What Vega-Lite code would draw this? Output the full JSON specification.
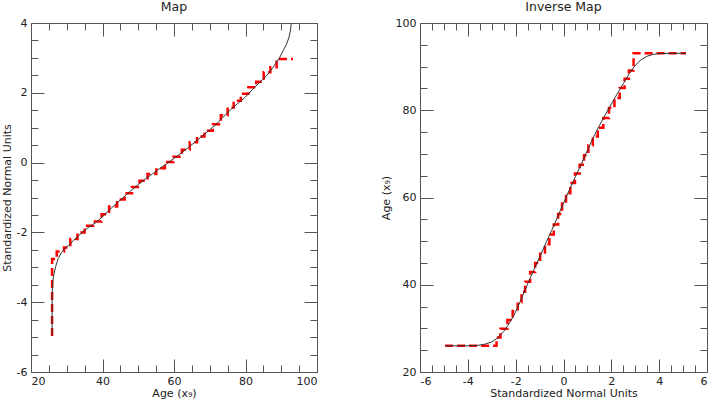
{
  "$schema": "https://vega.github.io/schema/vega-lite/v6.json",
  "padding": {"left": 0, "top": 0, "right": 2, "bottom": 0},
  "spacing": 61,
  "config": {
    "font": "DejaVu Sans",
    "view": {"stroke": "#555", "strokeWidth": 1},
    "axis": {"grid": false, "domain": false, "labelFont": "DejaVu Sans", "labelFontSize": 11, "labelColor": "#222", "titleFont": "DejaVu Sans", "titleFontSize": 11, "titleFontWeight": "normal", "titleColor": "#222", "tickColor": "#555", "tickWidth": 1},
    "title": {"font": "DejaVu Sans", "fontSize": 12.5, "fontWeight": "normal", "color": "#222", "anchor": "middle", "offset": 4}
  },
  "datasets": {
    "leftCurve": [
      {"a": 25.9, "z": -4.95}, {"a": 25.9, "z": -4.2}, {"a": 25.95, "z": -3.7}, {"a": 26.1, "z": -3.4}, {"a": 26.4, "z": -3.2}, {"a": 26.9, "z": -2.98}, {"a": 27.6, "z": -2.75}, {"a": 28.5, "z": -2.58}, {"a": 29.5, "z": -2.46}, {"a": 30.5, "z": -2.37}, {"a": 32, "z": -2.22}, {"a": 34, "z": -2.03}, {"a": 36, "z": -1.86}, {"a": 38, "z": -1.73}, {"a": 40, "z": -1.55}, {"a": 42, "z": -1.35}, {"a": 44, "z": -1.16}, {"a": 46, "z": -0.98}, {"a": 48, "z": -0.8}, {"a": 50, "z": -0.63}, {"a": 52, "z": -0.47}, {"a": 54, "z": -0.32}, {"a": 56, "z": -0.17}, {"a": 58, "z": -0.03}, {"a": 60, "z": 0.12}, {"a": 62, "z": 0.27}, {"a": 64, "z": 0.43}, {"a": 66, "z": 0.6}, {"a": 68, "z": 0.77}, {"a": 70, "z": 0.94}, {"a": 72, "z": 1.12}, {"a": 74, "z": 1.33}, {"a": 76, "z": 1.53}, {"a": 78, "z": 1.71}, {"a": 80, "z": 1.88}, {"a": 82, "z": 2.1}, {"a": 84, "z": 2.3}, {"a": 86, "z": 2.5}, {"a": 88, "z": 2.77}, {"a": 89.5, "z": 3.0}, {"a": 90.5, "z": 3.2}, {"a": 91.5, "z": 3.4}, {"a": 92.2, "z": 3.6}, {"a": 92.6, "z": 3.8}, {"a": 92.8, "z": 4.0}
    ],
    "leftStep": [
      {"a": 25.9, "z": -4.97}, {"a": 25.9, "z": -2.76}, {"a": 28.5, "z": -2.55}, {"a": 30.0, "z": -2.43}, {"a": 32, "z": -2.19}, {"a": 34, "z": -2.0}, {"a": 36, "z": -1.81}, {"a": 38.8, "z": -1.69}, {"a": 40.7, "z": -1.48}, {"a": 43, "z": -1.26}, {"a": 45.2, "z": -1.06}, {"a": 47.2, "z": -0.88}, {"a": 49.3, "z": -0.7}, {"a": 51.4, "z": -0.52}, {"a": 53.8, "z": -0.33}, {"a": 56.3, "z": -0.16}, {"a": 58.6, "z": 0.02}, {"a": 61.1, "z": 0.17}, {"a": 63.3, "z": 0.37}, {"a": 65.5, "z": 0.58}, {"a": 67.4, "z": 0.75}, {"a": 69.7, "z": 0.91}, {"a": 72, "z": 1.1}, {"a": 74.2, "z": 1.36}, {"a": 75.8, "z": 1.58}, {"a": 77.6, "z": 1.77}, {"a": 79.8, "z": 1.97}, {"a": 81.8, "z": 2.16}, {"a": 84.2, "z": 2.32}, {"a": 86, "z": 2.59}, {"a": 87.9, "z": 2.73}, {"a": 89.5, "z": 2.97}, {"a": 93.3, "z": 2.97}
    ],
    "rightCurve": [
      {"z": -4.95, "a": 26.0}, {"z": -4.0, "a": 26.0}, {"z": -3.6, "a": 26.1}, {"z": -3.3, "a": 26.35}, {"z": -3.0, "a": 26.9}, {"z": -2.75, "a": 27.8}, {"z": -2.5, "a": 29.3}, {"z": -2.33, "a": 30.6}, {"z": -2.1, "a": 32.7}, {"z": -1.9, "a": 35.0}, {"z": -1.7, "a": 37.6}, {"z": -1.5, "a": 40.2}, {"z": -1.25, "a": 43.3}, {"z": -1.0, "a": 46.3}, {"z": -0.75, "a": 49.4}, {"z": -0.5, "a": 52.4}, {"z": -0.25, "a": 55.5}, {"z": 0, "a": 58.7}, {"z": 0.25, "a": 61.8}, {"z": 0.5, "a": 64.8}, {"z": 0.75, "a": 67.7}, {"z": 1.0, "a": 70.8}, {"z": 1.25, "a": 73.8}, {"z": 1.5, "a": 76.5}, {"z": 1.75, "a": 79.0}, {"z": 2.0, "a": 81.4}, {"z": 2.25, "a": 83.8}, {"z": 2.5, "a": 86.1}, {"z": 2.75, "a": 88.4}, {"z": 3.0, "a": 90.3}, {"z": 3.25, "a": 91.6}, {"z": 3.5, "a": 92.4}, {"z": 3.75, "a": 92.8}, {"z": 4.0, "a": 93.0}, {"z": 4.5, "a": 93.05}, {"z": 5.12, "a": 93.05}
    ],
    "rightStep": [
      {"z": -4.95, "a": 26.0}, {"z": -2.8, "a": 26.0}, {"z": -2.8, "a": 27.9}, {"z": -2.47, "a": 29.9}, {"z": -2.22, "a": 31.9}, {"z": -2.03, "a": 34.0}, {"z": -1.8, "a": 36.0}, {"z": -1.71, "a": 38.4}, {"z": -1.5, "a": 40.7}, {"z": -1.29, "a": 42.9}, {"z": -1.08, "a": 45.0}, {"z": -0.87, "a": 47.1}, {"z": -0.68, "a": 49.3}, {"z": -0.5, "a": 51.5}, {"z": -0.31, "a": 53.8}, {"z": -0.14, "a": 56.2}, {"z": 0.02, "a": 58.6}, {"z": 0.19, "a": 61.0}, {"z": 0.38, "a": 63.3}, {"z": 0.58, "a": 65.5}, {"z": 0.77, "a": 67.5}, {"z": 0.95, "a": 69.7}, {"z": 1.13, "a": 72.0}, {"z": 1.32, "a": 74.0}, {"z": 1.55, "a": 76.0}, {"z": 1.78, "a": 78.2}, {"z": 2.02, "a": 80.5}, {"z": 2.24, "a": 82.8}, {"z": 2.46, "a": 85.1}, {"z": 2.65, "a": 87.2}, {"z": 2.82, "a": 89.1}, {"z": 2.93, "a": 89.1}, {"z": 2.93, "a": 93.05}, {"z": 5.12, "a": 93.05}
    ]
  },
  "hconcat": [
    {
      "title": "Map",
      "width": 286,
      "height": 349,
      "resolve": {"axis": {"x": "independent", "y": "independent"}},
      "layer": [
        {
          "data": {"name": "leftStep"},
          "mark": {"type": "line", "color": "#ff0000", "strokeWidth": 2.5, "strokeDash": [8, 4], "interpolate": "step", "clip": true},
          "encoding": {
            "x": {"field": "a", "type": "quantitative", "scale": {"domain": [20, 100], "nice": false, "zero": false},
              "axis": {"orient": "bottom", "title": "Age (x₉)", "values": [20, 40, 60, 80, 100], "ticks": false, "labelPadding": 3, "titlePadding": 1, "labelExpr": "datum.value + ''"}},
            "y": {"field": "z", "type": "quantitative", "scale": {"domain": [-6, 4], "nice": false, "zero": false},
              "axis": {"orient": "left", "title": "Standardized Normal Units", "values": [-6, -4, -2, 0, 2, 4], "ticks": false, "labelPadding": 4, "titlePadding": 4, "labelExpr": "datum.value + ''"}}
          }
        },
        {
          "data": {"name": "leftCurve"},
          "mark": {"type": "line", "color": "#333", "strokeWidth": 1, "clip": true},
          "encoding": {
            "x": {"field": "a", "type": "quantitative", "scale": {"domain": [20, 100], "nice": false, "zero": false},
              "axis": {"orient": "bottom", "title": null, "labels": false, "values": [20, 40, 60, 80, 100], "tickSize": 13, "offset": -13}},
            "y": {"field": "z", "type": "quantitative", "scale": {"domain": [-6, 4], "nice": false, "zero": false},
              "axis": {"orient": "left", "title": null, "labels": false, "values": [-6, -4, -2, 0, 2, 4], "tickSize": 13, "offset": -13}}
          }
        },
        {
          "data": {"name": "leftCurve"},
          "mark": {"type": "line", "opacity": 0},
          "encoding": {
            "x": {"field": "a", "type": "quantitative", "scale": {"domain": [20, 100], "nice": false, "zero": false},
              "axis": {"orient": "bottom", "title": null, "labels": false, "values": [25, 30, 35, 45, 50, 55, 65, 70, 75, 85, 90, 95], "tickSize": 7, "offset": -7}},
            "y": {"field": "z", "type": "quantitative", "scale": {"domain": [-6, 4], "nice": false, "zero": false},
              "axis": {"orient": "left", "title": null, "labels": false, "values": [-5.5, -5, -4.5, -3.5, -3, -2.5, -1.5, -1, -0.5, 0.5, 1, 1.5, 2.5, 3, 3.5], "tickSize": 7, "offset": -7}}
          }
        },
        {
          "data": {"name": "leftCurve"},
          "mark": {"type": "line", "opacity": 0},
          "encoding": {
            "x": {"field": "a", "type": "quantitative", "scale": {"domain": [20, 100], "nice": false, "zero": false},
              "axis": {"orient": "top", "title": null, "labels": false, "values": [20, 40, 60, 80, 100], "tickSize": 13, "offset": -13}},
            "y": {"field": "z", "type": "quantitative", "scale": {"domain": [-6, 4], "nice": false, "zero": false},
              "axis": {"orient": "right", "title": null, "labels": false, "values": [-6, -4, -2, 0, 2, 4], "tickSize": 13, "offset": -13}}
          }
        },
        {
          "data": {"name": "leftCurve"},
          "mark": {"type": "line", "opacity": 0},
          "encoding": {
            "x": {"field": "a", "type": "quantitative", "scale": {"domain": [20, 100], "nice": false, "zero": false},
              "axis": {"orient": "top", "title": null, "labels": false, "values": [25, 30, 35, 45, 50, 55, 65, 70, 75, 85, 90, 95], "tickSize": 7, "offset": -7}},
            "y": {"field": "z", "type": "quantitative", "scale": {"domain": [-6, 4], "nice": false, "zero": false},
              "axis": {"orient": "right", "title": null, "labels": false, "values": [-5.5, -5, -4.5, -3.5, -3, -2.5, -1.5, -1, -0.5, 0.5, 1, 1.5, 2.5, 3, 3.5], "tickSize": 7, "offset": -7}}
          }
        }
      ]
    },
    {
      "title": "Inverse Map",
      "width": 287,
      "height": 349,
      "resolve": {"axis": {"x": "independent", "y": "independent"}},
      "layer": [
        {
          "data": {"name": "rightStep"},
          "mark": {"type": "line", "color": "#ff0000", "strokeWidth": 2.5, "strokeDash": [8, 4], "interpolate": "step", "clip": true},
          "encoding": {
            "x": {"field": "z", "type": "quantitative", "scale": {"domain": [-6, 6], "nice": false, "zero": false},
              "axis": {"orient": "bottom", "title": "Standardized Normal Units", "values": [-6, -4, -2, 0, 2, 4, 6], "ticks": false, "labelPadding": 3, "titlePadding": 1, "labelExpr": "datum.value + ''"}},
            "y": {"field": "a", "type": "quantitative", "scale": {"domain": [20, 100], "nice": false, "zero": false},
              "axis": {"orient": "left", "title": "Age (x₉)", "values": [20, 40, 60, 80, 100], "ticks": false, "labelPadding": 4, "titlePadding": 4, "labelExpr": "datum.value + ''"}}
          }
        },
        {
          "data": {"name": "rightCurve"},
          "mark": {"type": "line", "color": "#333", "strokeWidth": 1, "clip": true},
          "encoding": {
            "x": {"field": "z", "type": "quantitative", "scale": {"domain": [-6, 6], "nice": false, "zero": false},
              "axis": {"orient": "bottom", "title": null, "labels": false, "values": [-6, -4, -2, 0, 2, 4, 6], "tickSize": 13, "offset": -13}},
            "y": {"field": "a", "type": "quantitative", "scale": {"domain": [20, 100], "nice": false, "zero": false},
              "axis": {"orient": "left", "title": null, "labels": false, "values": [20, 40, 60, 80, 100], "tickSize": 13, "offset": -13}}
          }
        },
        {
          "data": {"name": "rightCurve"},
          "mark": {"type": "line", "opacity": 0},
          "encoding": {
            "x": {"field": "z", "type": "quantitative", "scale": {"domain": [-6, 6], "nice": false, "zero": false},
              "axis": {"orient": "bottom", "title": null, "labels": false, "values": [-5.5, -5, -4.5, -3.5, -3, -2.5, -1.5, -1, -0.5, 0.5, 1, 1.5, 2.5, 3, 3.5, 4.5, 5, 5.5], "tickSize": 7, "offset": -7}},
            "y": {"field": "a", "type": "quantitative", "scale": {"domain": [20, 100], "nice": false, "zero": false},
              "axis": {"orient": "left", "title": null, "labels": false, "values": [25, 30, 35, 45, 50, 55, 65, 70, 75, 85, 90, 95], "tickSize": 7, "offset": -7}}
          }
        },
        {
          "data": {"name": "rightCurve"},
          "mark": {"type": "line", "opacity": 0},
          "encoding": {
            "x": {"field": "z", "type": "quantitative", "scale": {"domain": [-6, 6], "nice": false, "zero": false},
              "axis": {"orient": "top", "title": null, "labels": false, "values": [-6, -4, -2, 0, 2, 4, 6], "tickSize": 13, "offset": -13}},
            "y": {"field": "a", "type": "quantitative", "scale": {"domain": [20, 100], "nice": false, "zero": false},
              "axis": {"orient": "right", "title": null, "labels": false, "values": [20, 40, 60, 80, 100], "tickSize": 13, "offset": -13}}
          }
        },
        {
          "data": {"name": "rightCurve"},
          "mark": {"type": "line", "opacity": 0},
          "encoding": {
            "x": {"field": "z", "type": "quantitative", "scale": {"domain": [-6, 6], "nice": false, "zero": false},
              "axis": {"orient": "top", "title": null, "labels": false, "values": [-5.5, -5, -4.5, -3.5, -3, -2.5, -1.5, -1, -0.5, 0.5, 1, 1.5, 2.5, 3, 3.5, 4.5, 5, 5.5], "tickSize": 7, "offset": -7}},
            "y": {"field": "a", "type": "quantitative", "scale": {"domain": [20, 100], "nice": false, "zero": false},
              "axis": {"orient": "right", "title": null, "labels": false, "values": [25, 30, 35, 45, 50, 55, 65, 70, 75, 85, 90, 95], "tickSize": 7, "offset": -7}}
          }
        }
      ]
    }
  ]
}
